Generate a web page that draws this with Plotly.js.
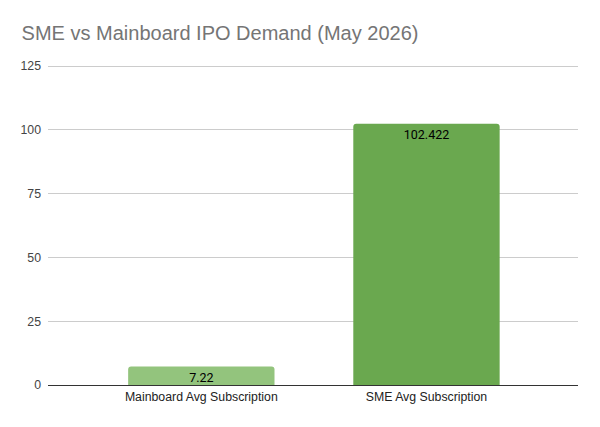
<!DOCTYPE html>
<html>
<head>
<meta charset="utf-8">
<script src="https://cdn.plot.ly/plotly-3.0.1.min.js"></script>
<style>html,body{margin:0;padding:0;background:#fff;}#chart{width:600px;height:427px;}</style>
</head>
<body>
<div id="chart"></div>
<script>
const categories = ["Mainboard Avg Subscription", "SME Avg Subscription"];
const values = [7.22, 102.422];
const labels = ["7.22", "102.422"];
const barColors = ["#93c47d", "#6aa84f"];
const yTicks = [0, 25, 50, 75, 100, 125];

const trace = {
  type: "bar",
  x: categories,
  y: values,
  text: labels,
  textposition: "inside",
  insidetextanchor: "end",
  constraintext: "none",
  textangle: 0,
  textfont: {family: "Roboto, Arial, sans-serif", size: 12.5, color: "#000"},
  marker: {color: barColors, cornerradius: 3},
  width: 0.65,
  hoverinfo: "none"
};

const layout = {
  width: 600, height: 427,
  margin: {l: 48, r: 22, t: 65, b: 42},
  paper_bgcolor: "#fff", plot_bgcolor: "#fff",
  title: {text: "SME vs Mainboard IPO Demand (May 2026)", x: 0.036, xanchor: "left", y: 0.923, yanchor: "middle",
          font: {family: "Liberation Sans, Arial, sans-serif", size: 20, color: "#757575"}},
  showlegend: false,
  xaxis: {range: [-0.681, 1.673], showgrid: false, showline: true, linecolor: "#333", linewidth: 1,
          ticks: "", tickfont: {family: "Liberation Sans, Arial, sans-serif", size: 12.3, color: "#222"}, fixedrange: true},
  yaxis: {range: [0, 125.4], tickvals: yTicks, ticktext: yTicks.map(String), showgrid: true, gridcolor: "#cccccc",
          zeroline: true, zerolinecolor: "#333", zerolinewidth: 1, ticks: "", ticklabelstandoff: 6,
          tickfont: {family: "Liberation Sans, Arial, sans-serif", size: 12.3, color: "#444"}, fixedrange: true}
};

Plotly.newPlot("chart", [trace], layout, {displayModeBar: false, staticPlot: true});
</script>
</body>
</html>
